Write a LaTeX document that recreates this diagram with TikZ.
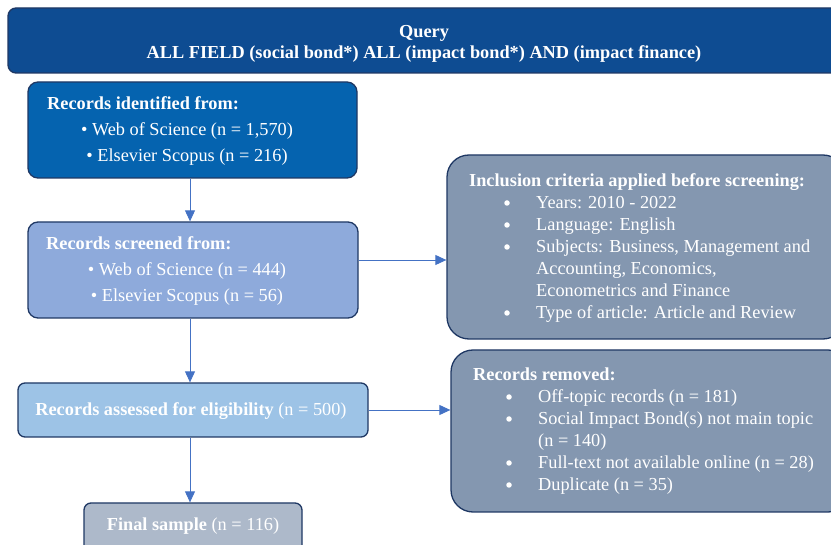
\documentclass[tikz,border=0pt]{standalone}
\usepackage{fontspec}
\setmainfont{Liberation Serif}
\usetikzlibrary{arrows.meta,calc}
\definecolor{cquery}{HTML}{0E4C92}
\definecolor{cid}{HTML}{0563AF}
\definecolor{cscr}{HTML}{8EAADB}
\definecolor{celig}{HTML}{9DC3E6}
\definecolor{cfin}{HTML}{ADB9CA}
\definecolor{cside}{HTML}{8497B0}
\definecolor{cborder}{HTML}{1F3864}
\definecolor{carrow}{HTML}{4472C4}
\newcommand{\fsz}{\fontsize{18.3}{22}\selectfont}
\tikzset{
  box/.style={draw=cborder, line width=1.3pt, rectangle, inner sep=0pt, text=white},
  arr/.style={draw=carrow, line width=0.9pt, -{Triangle[length=11pt,width=10pt]}},
  txt/.style={text=white, inner sep=0pt, font=\fsz},
  tl/.style={txt, anchor=base west},
  tc/.style={txt, anchor=base},
  tb/.style={tl, font=\fsz\bfseries},
  dot/.style={circle, fill=white, inner sep=0pt, minimum size=5.5pt},
}
\begin{document}
\begin{tikzpicture}[x=1pt,y=-1pt]
\useasboundingbox (0,0) rectangle (831,545);
% boxes
\node[box, fill=cquery, rounded corners=8pt, minimum width=832pt, minimum height=65pt] (query) at (424,40.5) {};
\node[txt, align=center, font=\fontsize{18.3}{21.5}\selectfont\bfseries] (qt) at (424,44) {Query\\ALL FIELD (social bond*) ALL (impact bond*) AND (impact finance)};
\node[box, fill=cid, rounded corners=10pt, minimum width=329pt, minimum height=96pt] (ident) at (192.5,130) {};
\node[box, fill=cscr, rounded corners=10pt, minimum width=330pt, minimum height=96pt] (scr) at (193,270) {};
\node[box, fill=cside, rounded corners=22pt, minimum width=398pt, minimum height=184pt] (incl) at (646,247) {};
\node[box, fill=celig, rounded corners=7pt, minimum width=350pt, minimum height=54pt] (elig) at (193,410) {};
\node[box, fill=cside, rounded corners=22pt, minimum width=399pt, minimum height=162pt] (rem) at (650.5,431) {};
\node[box, fill=cfin, rounded corners=7pt, minimum width=218pt, minimum height=57pt] (fin) at (193,531.5) {};
% texts: identified
\node[tb] (t1) at (47,110) {Records identified from:};
\node[tc] (t2) at (187,136) {• Web of Science (n = 1,570)};
\node[tc] (t3) at (187,162) {• Elsevier Scopus (n = 216)};
% screened
\node[tb] (s1) at (46,250) {Records screened from:};
\node[tc] (s2) at (187,276) {• Web of Science (n = 444)};
\node[tc] (s3) at (187,302) {• Elsevier Scopus (n = 56)};
% eligibility
\node[tc] (e1) at (191,416) {\textbf{Records assessed for eligibility} (n = 500)};
% final
\node[tc] (f1) at (193,530) {\textbf{Final sample} (n = 116)};
% inclusion
\node[tb] (i0) at (469,187) {Inclusion criteria applied before screening:};
\foreach \y/\t [count=\k] in {209/{Years: 2010 - 2022},231/{Language: English},253/{Subjects: Business, Management and},319/{Type of article: Article and Review}}
  {\node[dot] (ib\k) at (507,\y-6) {}; \node[tl] (it\k) at (536,\y) {\t};}
\node[tl] (it5) at (536,275) {Accounting, Economics,};
\node[tl] (it6) at (536,297) {Econometrics and Finance};
% removed
\node[tb] (r0) at (473,381) {Records removed:};
\foreach \y/\t [count=\k] in {403/{Off-topic records (n = 181)},425/{Social Impact Bond(s) not main topic},469/{Full-text not available online (n = 28)},491/{Duplicate (n = 35)}}
  {\node[dot] (rb\k) at (509,\y-6) {}; \node[tl] (rt\k) at (538,\y) {\t};}
\node[tl] (rt5) at (538,447) {(n = 140)};
% arrows
\draw[arr] ([xshift=-2.5pt]ident.south) -- ([xshift=-2.5pt]ident.south |- scr.north);
\draw[arr] ([xshift=-3pt]scr.south) -- ([xshift=-3pt]scr.south |- elig.north);
\draw[arr] ([xshift=-3pt]elig.south) -- ([xshift=-3pt]elig.south |- fin.north);
\draw[arr] ([yshift=10pt]scr.east) -- ([yshift=10pt]scr.east -| incl.west);
\draw[arr] (elig.east) -- (elig.east -| rem.west);
\end{tikzpicture}
\end{document}
